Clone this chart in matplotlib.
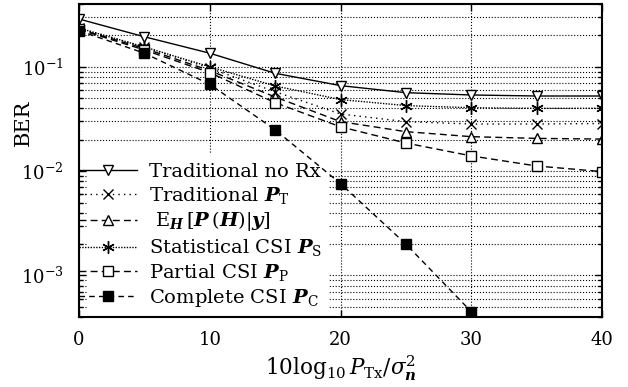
import numpy as np
import matplotlib
matplotlib.use("Agg")
import matplotlib.pyplot as plt
from matplotlib.patches import Rectangle

plt.rcParams["font.family"] = ["DejaVu Serif"]
plt.rcParams["mathtext.fontset"] = "dejavuserif"

# values (BER vs 10log10 PTx/sigma^2)
snr = [0, 5, 10, 15, 20, 25, 30, 35, 40]
trad_no_rx = [0.287, 0.194, 0.135, 0.0867, 0.066, 0.0565, 0.0537, 0.0525, 0.0525]
trad_pt = [0.235, 0.155, 0.097, 0.0577, 0.0353, 0.0298, 0.0283, 0.0283, 0.0286]
e_h = [0.23, 0.15, 0.092, 0.0514, 0.0298, 0.0239, 0.0214, 0.0206, 0.0203]
stat_csi = [0.235, 0.155, 0.1, 0.0655, 0.0485, 0.0425, 0.0405, 0.040, 0.040]
partial_csi = [0.228, 0.145, 0.088, 0.0453, 0.0266, 0.0186, 0.014, 0.0112, 0.0099]
snr_complete = [0, 5, 10, 15, 20, 25, 30]
complete_csi = [0.222, 0.135, 0.068, 0.0249, 0.0076, 0.002, 0.00045]

labels = [
    "Traditional no Rx",
    r"Traditional $\mathbfit{P}_{\mathrm{T}}$",
    r" $\mathrm{E}_{\mathbfit{H}}\,[\mathbfit{P}\,(\mathbfit{H})|\mathbfit{y}]$",
    r"Statistical CSI $\mathbfit{P}_{\mathrm{S}}$",
    r"Partial CSI $\mathbfit{P}_{\mathrm{P}}$",
    r"Complete CSI $\mathbfit{P}_{\mathrm{C}}$",
]

fig = plt.figure(figsize=(6.28, 3.87), dpi=100)
ax = fig.add_axes([0.1258, 0.1809, 0.8328, 0.8088])

lw = 1.0
ax.plot(snr, trad_no_rx, "k-", lw=lw, marker="v", ms=7, mfc="white", mew=1, label=labels[0])
ax.plot(snr, trad_pt, "k", ls=(0, (1, 3)), lw=lw, marker="x", ms=7, mew=1, label=labels[1])
ax.plot(snr, e_h, "k", ls=(0, (5, 3)), lw=lw, marker="^", ms=7, mfc="white", mew=1, label=labels[2])
ax.plot(snr, stat_csi, "k", ls=(0, (1, 1)), lw=lw, marker=(6, 2, 0), ms=9, mew=1, label=labels[3])
ax.plot(snr, partial_csi, "k", ls=(0, (5, 3)), lw=lw, marker="s", ms=7, mfc="white", mew=1, label=labels[4])
ax.plot(snr_complete, complete_csi, "k", ls=(0, (4, 3)), lw=lw, marker="s", ms=7, mfc="black", mew=1, label=labels[5])

ax.set_yscale("log")
ax.set_xlim(0, 40)
ax.set_ylim(4e-4, 0.4)
ax.set_xticks([0, 10, 20, 30, 40])

ax.grid(True, which="major", axis="x", ls=":", lw=0.8, color="black")
ax.grid(True, which="both", axis="y", ls=":", lw=0.8, color="black")

# white box behind the legend hides the grid, like the original
ax.add_patch(Rectangle((0.017, 0.0), 0.461, 0.52, transform=ax.transAxes,
                       facecolor="white", edgecolor="none", zorder=1.8))

for s in ax.spines.values():
    s.set_linewidth(1.5)
ax.tick_params(which="both", direction="in", top=True, right=True, labelsize=13, width=1)
ax.tick_params(which="major", length=5)
ax.tick_params(axis="x", which="major", pad=10)
ax.tick_params(axis="y", which="major", pad=11)
ax.tick_params(which="minor", length=3)

ax.set_xlabel(r"$10\log_{10}P_{\mathrm{Tx}}/\sigma_{\mathbfit{n}}^2$", fontsize=15.5, labelpad=3)
ax.set_ylabel("BER", fontsize=15)
ax.yaxis.set_label_coords(-0.088, 0.62)

leg = ax.legend(loc="lower left", bbox_to_anchor=(0.0, 0.025), frameon=False,
                fontsize=14, handlelength=3.0, handletextpad=0.6,
                labelspacing=0.2, borderaxespad=0.0, borderpad=0.0)

fig.savefig("out.png", dpi=100)
